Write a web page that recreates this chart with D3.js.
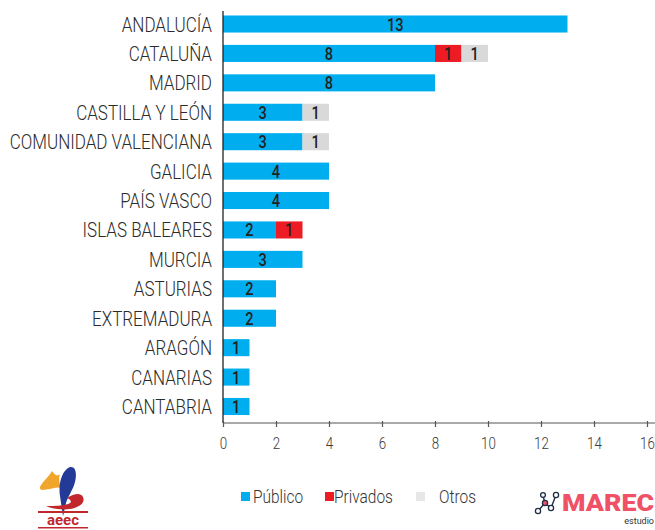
<!DOCTYPE html>
<html><head><meta charset="utf-8">
<script src="https://cdn.jsdelivr.net/npm/d3@7"></script>
<style>
html,body{margin:0;padding:0;background:#fff;}
svg{display:block;}
text{font-family:Roboto, "DejaVu Sans", sans-serif;}
</style></head>
<body>
<svg id="chart" width="655" height="530"></svg>
<script>
const categories = ["ANDALUCÍA","CATALUÑA","MADRID","CASTILLA Y LEÓN","COMUNIDAD VALENCIANA","GALICIA","PAÍS VASCO","ISLAS BALEARES","MURCIA","ASTURIAS","EXTREMADURA","ARAGÓN","CANARIAS","CANTABRIA"];
const publico  = [13,8,8,3,3,4,4,2,3,2,2,1,1,1];
const privados = [0,1,0,0,0,0,0,1,0,0,0,0,0,0];
const otros    = [0,1,0,1,1,0,0,0,0,0,0,0,0,0];
const seriesNames = ["Público","Privados","Otros"];
const xTicks = [0,2,4,6,8,10,12,14,16];

const colors = {"Público":"#00AEEF","Privados":"#ED1C24","Otros":"#D9D9D9"};
const legendColors = {"Público":"#00AEEF","Privados":"#ED1C24","Otros":"#E6E7E8"};
const SX = 0.81; // horizontal condensing

const svg = d3.select("#chart");
const x = d3.scaleLinear().domain([0,16]).range([223,647]);
const y = d3.scaleBand().domain(categories).range([9.3,421.2]).paddingInner(0.42).paddingOuter(0.21);

const table = categories.map((c,i)=>({cat:c,"Público":publico[i],"Privados":privados[i],"Otros":otros[i]}));
const stack = d3.stack().keys(seriesNames)(table);

const gBars = svg.append("g");
stack.forEach(layer=>{
  const key = layer.key;
  const g = gBars.append("g");
  g.selectAll("rect").data(layer.filter(d=>d[1]-d[0]>0)).join("rect")
    .attr("x",d=>x(d[0])).attr("width",d=>x(d[1])-x(d[0]))
    .attr("y",d=>y(d.data.cat)).attr("height",y.bandwidth())
    .attr("fill",colors[key]);
  g.selectAll("text").data(layer.filter(d=>d[1]-d[0]>0)).join("text")
    .attr("transform",d=>`translate(${(x(d[0])+x(d[1]))/2},${y(d.data.cat)+y.bandwidth()/2+6.5}) scale(${SX},1)`)
    .attr("text-anchor","middle")
    .attr("font-size",18).attr("font-weight",500).attr("fill","#222")
    .text(d=>d[1]-d[0]);
});

// y labels
svg.append("g").selectAll("text").data(categories).join("text")
  .attr("transform",d=>`translate(212,${y(d)+y.bandwidth()/2+7.5}) scale(${SX},1)`)
  .attr("text-anchor","end").attr("font-size",21).attr("font-weight",300).attr("fill","#2b2b2b")
  .text(d=>d);

// y axis line
svg.append("line").attr("x1",223).attr("x2",223).attr("y1",11).attr("y2",423)
  .attr("stroke","#222").attr("stroke-width",1.3);

// x axis
const xAxis = svg.append("g").attr("transform","translate(0,423)")
  .call(d3.axisBottom(x).tickValues(xTicks).tickSize(4).tickSizeOuter(0).tickPadding(0));
xAxis.select(".domain").remove();
xAxis.append("line").attr("x1",223).attr("x2",655).attr("y1",0).attr("y2",0).attr("stroke","#555").attr("stroke-width",1.2);
xAxis.selectAll(".tick line").attr("y1",-2).attr("y2",4).attr("stroke","#555").attr("stroke-width",1.2);
xAxis.selectAll(".tick text").attr("y",null).attr("dy",null)
  .attr("transform",`translate(0,26) scale(${SX},1)`)
  .attr("font-size",16.5).attr("font-weight",300).attr("fill","#3a3a3a")
  .attr("font-family","Roboto, sans-serif");

// legend
const legendItems = [{k:"Público",sx:241,tx:253},{k:"Privados",sx:325,tx:334},{k:"Otros",sx:416,tx:439}];
const lg = svg.append("g");
legendItems.forEach(it=>{
  lg.append("rect").attr("x",it.sx).attr("y",492).attr("width",9).attr("height",9).attr("fill",legendColors[it.k]);
  lg.append("text").attr("transform",`translate(${it.tx},503) scale(0.86,1)`)
    .attr("font-size",18).attr("font-weight",300).attr("fill","#333").text(it.k);
});

// aeec logo (decorative)
const al = svg.append("g");
al.append("path").attr("d","M52,471 C48,478 42,482 40,487 C39,491 44,490 50,489 C55,488 60,486 62,490 C60,484 58,480 60,474 C57,477 55,475 52,471 Z").attr("fill","#F2A52B");
al.append("path").attr("d","M60,496 C58,484 62,470 70,467 C76,466 77,474 75,482 C73,490 68,496 66,503 C64,510 64,514 63,516 C62,510 61,503 60,496 Z").attr("fill","#243A97");
al.append("path").attr("d","M67,498 C74,494 80,492 83,497 C86,503 78,508 70,509 C62,510 52,509 46,506 C54,506 62,506 68,504 C72,503 72,500 67,498 Z").attr("fill","#C2272D");
al.append("rect").attr("x",38).attr("y",511).attr("width",50).attr("height",2).attr("fill","#C2272D");
al.append("text").attr("x",63).attr("y",525).attr("text-anchor","middle").attr("font-size",15).attr("font-weight",700)
  .attr("fill","#C2272D").attr("font-family","Roboto, sans-serif").text("aeec");
al.append("rect").attr("x",38).attr("y",527).attr("width",50).attr("height",1.5).attr("fill","#C2272D");

// MAREC logo (decorative)
const ml = svg.append("g");
const pts = [[538,511],[545,503],[551,508],[556,495]];
ml.append("path").attr("d",`M${pts[0]}L${pts[1]}L${pts[2]}L${pts[3]}`).attr("fill","none").attr("stroke","#1f2d44").attr("stroke-width",1.4);
ml.append("path").attr("d","M543,496 L545,503").attr("fill","none").attr("stroke","#1f2d44").attr("stroke-width",1.4);
ml.selectAll("circle").data(pts).join("circle").attr("cx",d=>d[0]).attr("cy",d=>d[1]).attr("r",2.6)
  .attr("fill",(d,i)=>i===1?"#EF5167":"#fff").attr("stroke","#1f2d44").attr("stroke-width",1.3);
ml.append("circle").attr("cx",543).attr("cy",495).attr("r",2.4).attr("fill","#fff").attr("stroke","#1f2d44").attr("stroke-width",1.3);
ml.append("text").attr("x",562).attr("y",511).attr("font-size",23).attr("font-weight",900)
  .attr("fill","#EF5167").attr("font-family","Roboto, sans-serif").attr("textLength",92).attr("lengthAdjust","spacingAndGlyphs").text("MAREC");
ml.append("text").attr("x",654).attr("y",524).attr("text-anchor","end").attr("font-size",9)
  .attr("fill","#333").attr("font-family","Roboto, sans-serif").text("estudio");
</script>
</body></html>
